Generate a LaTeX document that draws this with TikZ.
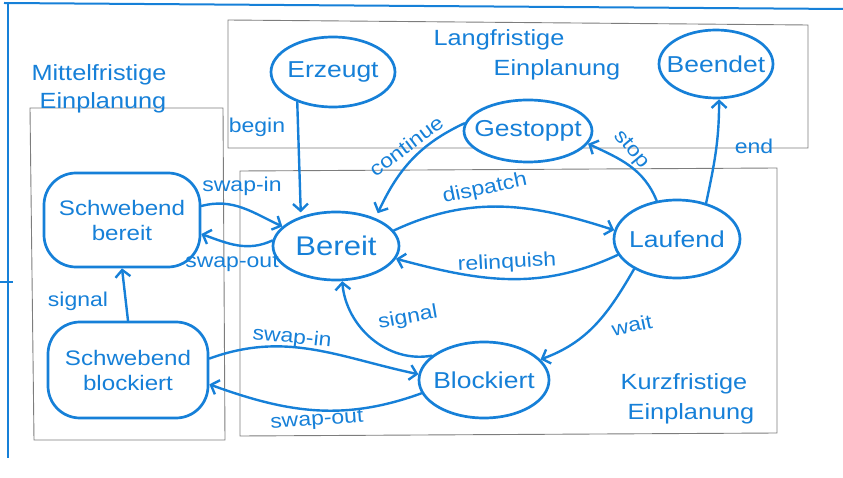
\documentclass[tikz,border=0pt]{standalone}
\usepackage{fontspec}
\setmainfont{Liberation Sans}[FakeStretch=1.15]
\usetikzlibrary{shapes.geometric,arrows.meta}
\definecolor{ink}{RGB}{22,128,216}
\definecolor{pencil}{RGB}{125,125,125}
\begin{document}
\begin{tikzpicture}[x=1pt,y=-1pt,
  state/.style={ellipse,draw=ink,fill=white,line width=2.7pt,text=ink,inner sep=0pt,font=\fontsize{23}{25}\selectfont},
  pend/.style={rectangle,rounded corners=32pt,draw=ink,fill=white,line width=2.7pt,text=ink,align=center,inner sep=0pt,font=\fontsize{21}{25}\selectfont},
  arr/.style={draw=ink,line width=2.4pt,line cap=round,-{Straight Barb[length=7pt,width=15pt,line width=2.4pt]}},
  lbl/.style={text=ink,inner sep=0pt,font=\fontsize{20}{22}\selectfont},
  grp/.style={text=ink,inner sep=0pt,font=\fontsize{22}{24}\selectfont},
  box/.style={draw=pencil,line width=0.9pt},
  frame/.style={draw=ink,line width=2pt}]
\useasboundingbox (0,0) rectangle (843,478);
% blue frame
\draw[frame] (4,3) -- (843,9);
\draw[frame] (8,2) -- (8,458);
\draw[frame] (0,282) -- (13,282);
% pencil boxes
\draw[box] (228,20) -- (808,25) -- (808,148) -- (228,148) -- cycle;
\draw[box] (30,108) -- (223,108) -- (225,440) -- (34,440) -- cycle;
\draw[box] (240,171) -- (777,168) -- (777,433) -- (240,436) -- cycle;
% group labels
\node[grp] (lang1) at (499,40) {Langfristige};
\node[grp] (lang2) at (557,70) {Einplanung};
\node[grp] (mit1) at (99,75) {Mittelfristige};
\node[grp] (mit2) at (103,103) {Einplanung};
\node[grp] (kurz1) at (684,384) {Kurzfristige};
\node[grp] (kurz2) at (691,414) {Einplanung};
% states
\node[state,minimum width=124pt,minimum height=70pt] (erz) at (333,72) {\makebox[0pt]{Erzeugt}};
\node[state,minimum width=114pt,minimum height=68pt] (bee) at (716,64) {\makebox[0pt]{Beendet}};
\node[state,minimum width=128pt,minimum height=62pt] (ges) at (528,131) {\makebox[0pt]{Gestoppt}};
\node[state,minimum width=126pt,minimum height=68pt,font=\fontsize{27}{29}\selectfont] (ber) at (336,246) {\makebox[0pt]{Bereit}};
\node[state,minimum width=126pt,minimum height=78pt] (lau) at (677,239) {\makebox[0pt]{Laufend}};
\node[state,minimum width=130pt,minimum height=76pt] (blk) at (484,380) {\makebox[0pt]{Blockiert}};
\node[pend,minimum width=156pt,minimum height=94pt] (sbb) at (122,220) {Schwebend\\bereit};
\node[pend,minimum width=160pt,minimum height=96pt] (sbk) at (128,370) {Schwebend\\blockiert};
% transitions
\draw[arr] (erz.220) -- ([shift={(0pt,4pt)}]ber.140);
\draw[arr] (ges.173) to[out=205,in=65] ([shift={(2pt,5pt)}]ber.35);
\draw[arr] (lau.118) to[out=112,in=-25] (ges.-12);
\draw[arr] (lau.51) to[out=78,in=-90] (bee.-85);
\draw[arr] (ber.15) to[out=25,in=162] (lau.172);
\draw[arr] (lau.195) to[out=205,in=-15] (ber.-12);
\draw[arr] (lau.215) to[out=240,in=20] (blk.20);
\draw[arr] (blk.155) to[out=190,in=-85] (ber.-80);
\draw[arr] (sbb.10) to[out=15,in=155] (ber.160);
\draw[arr] (ber.175) to[out=205,in=-20] (sbb.-10);
\draw[arr] (sbk.north) -- (sbb.south);
\draw[arr] (sbk.8) to[out=20,in=168] (blk.175);
\draw[arr] (blk.192) to[out=200,in=-20] (sbk.-10);
% transition labels
\node[lbl] (t-begin) at (257,127) {begin};
\node[lbl,rotate=37] (t-cont) at (406,146) {continue};
\node[lbl,rotate=-50] (t-stop) at (631,150) {stop};
\node[lbl] (t-end) at (754,146) {end};
\node[lbl,rotate=12] (t-disp) at (485,189) {dispatch};
\node[lbl,rotate=3] (t-rel) at (507,263) {relinquish};
\node[lbl,rotate=10] (t-sig2) at (408,318) {signal};
\node[lbl,rotate=12] (t-wait) at (632,325) {wait};
\node[lbl] (t-swin1) at (242,186) {swap-in};
\node[lbl] (t-swout1) at (232,263) {swap-out};
\node[lbl] (t-sig1) at (78,301) {signal};
\node[lbl,rotate=-6] (t-swin2) at (292,338) {swap-in};
\node[lbl,rotate=4] (t-swout2) at (317,421) {swap-out};
\end{tikzpicture}
\end{document}
